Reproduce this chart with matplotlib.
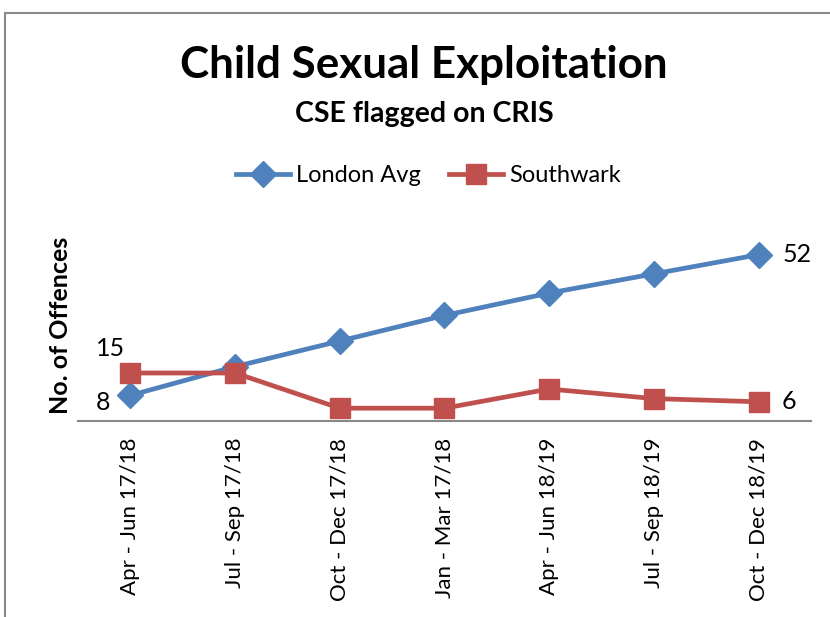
import matplotlib
matplotlib.use('Agg')
import matplotlib.pyplot as plt
from matplotlib.patches import Rectangle

quarters = ['Apr - Jun 17/18', 'Jul - Sep 17/18', 'Oct - Dec 17/18', 'Jan - Mar 17/18',
            'Apr - Jun 18/19', 'Jul - Sep 18/19', 'Oct - Dec 18/19']
london_avg = [8, 17, 25, 33, 40, 46, 52]
southwark = [15, 15, 4, 4, 10, 7, 6]

blue = '#4F81BD'
red = '#C0504D'

plt.rcParams['font.family'] = ['Lato', 'DejaVu Sans']

fig = plt.figure(figsize=(8.3, 6.17), dpi=100)
ax = fig.add_axes([0.094, 0.3177, 0.883, 0.311])

x = list(range(len(quarters)))
ax.plot(x, london_avg, color=blue, lw=3.4, marker='D', ms=13, label='London Avg')
ax.plot(x, southwark, color=red, lw=3.4, marker='s', ms=14, label='Southwark')

ax.set_xlim(-0.5, len(quarters) - 0.5)
ax.set_ylim(0, 60)
ax.set_xticks(x)
ax.set_xticklabels(quarters, rotation=90, fontsize=16)
ax.tick_params(axis='x', length=0, pad=12)
ax.set_yticks([])
for s in ['top', 'right', 'left']:
    ax.spines[s].set_visible(False)
ax.spines['bottom'].set_color('#888888')
ax.spines['bottom'].set_linewidth(1.5)
ax.set_ylabel('No. of Offences', fontsize=18, fontweight='bold', labelpad=4)

# data labels on first and last points
ax.annotate(str(london_avg[0]), (x[0], london_avg[0]), xytext=(-20, -5),
            textcoords='offset points', ha='center', va='center', fontsize=18)
ax.annotate(str(southwark[0]), (x[0], southwark[0]), xytext=(-14, 18),
            textcoords='offset points', ha='center', va='center', fontsize=18)
ax.annotate(str(london_avg[-1]), (x[-1], london_avg[-1]), xytext=(28, 0),
            textcoords='offset points', ha='center', va='center', fontsize=18)
ax.annotate(str(southwark[-1]), (x[-1], southwark[-1]), xytext=(22, 0),
            textcoords='offset points', ha='center', va='center', fontsize=18)

ax.legend(loc='center', bbox_to_anchor=(0.478, 1.28), ncol=2, frameon=False,
          fontsize=17, handlelength=2.3, columnspacing=1.2, handletextpad=0.25)

fig.text(0.511, 0.895, 'Child Sexual Exploitation', ha='center', va='center',
         fontsize=31.7, fontweight='bold')
fig.text(0.511, 0.815, 'CSE flagged on CRIS', ha='center', va='center',
         fontsize=20.5, fontweight='bold')

fig.patches.append(Rectangle((5 / 830, -0.1), 1.2, 1 - 13 / 617 + 0.1,
                             transform=fig.transFigure, fill=False,
                             edgecolor='#888888', lw=1.5))

fig.savefig('out.png', dpi=100)
